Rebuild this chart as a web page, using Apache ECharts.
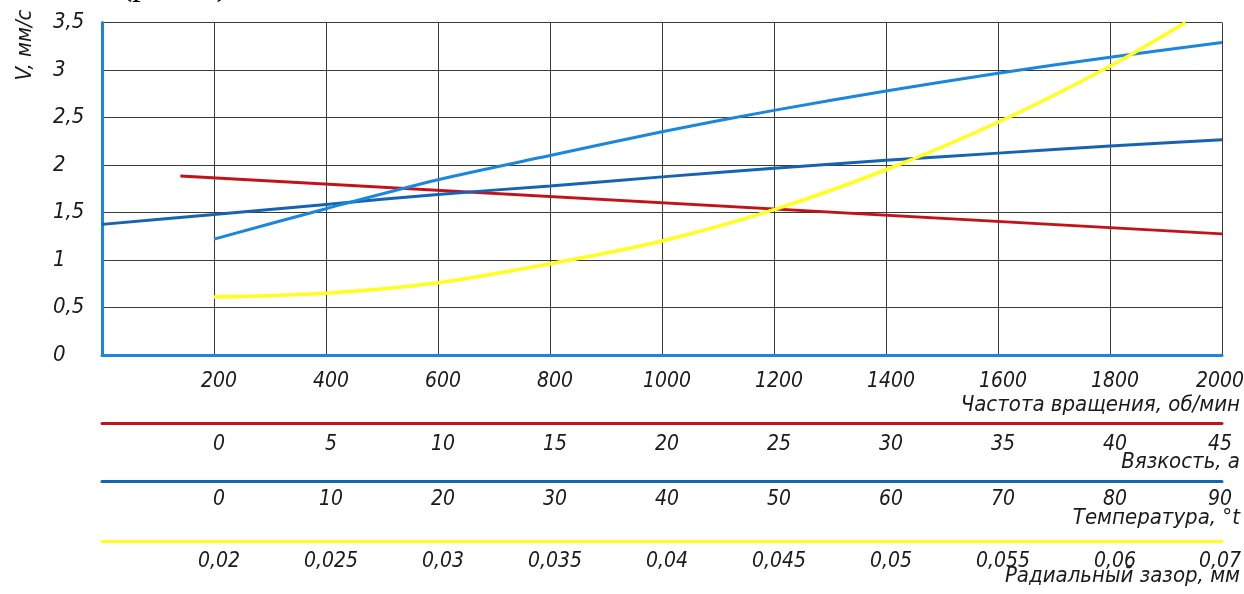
<!DOCTYPE html>
<html>
<head>
<meta charset="utf-8">
<script src="https://cdn.jsdelivr.net/npm/echarts@6/dist/echarts.min.js"></script>
<style>
  html, body { margin: 0; padding: 0; background: #ffffff; overflow: hidden; }
  #chart { width: 1244px; height: 594px; }
</style>
</head>
<body>
<div id="chart"></div>
<script>
// Tick labels of the four scales under the plot
const rpmTicks = ['200', '400', '600', '800', '1000', '1200', '1400', '1600', '1800', '2000'];
const viscosityTicks = ['0', '5', '10', '15', '20', '25', '30', '35', '40', '45'];
const temperatureTicks = ['0', '10', '20', '30', '40', '50', '60', '70', '80', '90'];
const clearanceTicks = ['0,02', '0,025', '0,03', '0,035', '0,04', '0,045', '0,05', '0,055', '0,06', '0,07'];

// Speed V, mm/s, plotted against the rotation-frequency scale (rpm)
const viscosityX = [140, 2000];
const viscosityV = [1.885, 1.275];

const temperatureX = [0, 200, 400, 600, 800, 1000, 1200, 1400, 1600, 1800, 2000];
const temperatureV = [1.375, 1.478, 1.585, 1.69, 1.78, 1.875, 1.965, 2.05, 2.125, 2.2, 2.265];

const rpmX = [200, 400, 600, 800, 1000, 1200, 1400, 1600, 1800, 2000];
const rpmV = [1.22, 1.54, 1.845, 2.1, 2.35, 2.575, 2.78, 2.965, 3.135, 3.29];

const clearanceX = [200, 400, 600, 800, 1000, 1200, 1400, 1600, 1800, 1935];
const clearanceV = [0.61, 0.65, 0.76, 0.96, 1.2, 1.53, 1.95, 2.45, 3.04, 3.5];

const FONT = "'Liberation Sans Narrow', 'DejaVu Sans Condensed', 'Liberation Sans', sans-serif";
const TEXT = '#1a1a1a';
const C_RPM = '#1a86dc';
const C_VISC = '#c4121a';
const C_TEMP = '#1763b3';
const C_CLEAR = '#ffff1f';

const pairs = (xs, ys) => xs.map((x, i) => [x, ys[i]]);

// Ticks sit every 200 rpm; the italic labels lean a little to the right,
// the last one is kept inside the canvas.
const tickLabel = (labels) => (v) => {
  const i = Math.round(v / 200) - 1;
  if (i < 0 || i >= labels.length) return '';
  return (i === labels.length - 1 ? '{z|' : '{a|') + labels[i] + '}';
};
const labelStyle = {
  fontFamily: FONT, fontStyle: 'italic', fontSize: 21, color: TEXT,
  rich: {
    a: { fontFamily: FONT, fontStyle: 'italic', fontSize: 21, color: TEXT, padding: [0, 0, 0, 10] },
    z: { fontFamily: FONT, fontStyle: 'italic', fontSize: 21, color: TEXT, padding: [0, 4, 0, 0] }
  }
};

// Extra parameter scales drawn as coloured rulers below the main axis
function scaleAxis(offset, color, labels, margin) {
  return {
    type: 'value', min: 0, max: 2000, interval: 200,
    position: 'bottom', offset: offset, gridIndex: 0,
    axisLine: { show: true, onZero: false, lineStyle: { color: color, width: 3 } },
    axisTick: { show: false },
    splitLine: { show: false },
    axisLabel: Object.assign({ margin: margin, formatter: tickLabel(labels) }, labelStyle)
  };
}

const chart = echarts.init(document.getElementById('chart'), null, { renderer: 'canvas' });

const names = [
  { text: 'Частота вращения, об/мин', y: 405 },
  { text: 'Вязкость, а', y: 462 },
  { text: 'Температура, °t', y: 518 },
  { text: 'Радиальный зазор, мм', y: 576 }
];

chart.setOption({
  animation: false,
  backgroundColor: '#ffffff',
  grid: {
    left: 102, right: 22, top: 22.5, bottom: 239,
    containLabel: false, outerBoundsMode: 'none'
  },
  xAxis: [
    {
      type: 'value', min: 0, max: 2000, interval: 200, position: 'bottom',
      axisLine: { show: true, onZero: false, lineStyle: { color: C_RPM, width: 3 } },
      axisTick: { show: false },
      splitLine: { show: true, lineStyle: { color: '#3a3a3a', width: 1 } },
      axisLabel: Object.assign({ margin: 16, formatter: tickLabel(rpmTicks) }, labelStyle)
    },
    scaleAxis(68, C_VISC, viscosityTicks, 11),
    scaleAxis(126, C_TEMP, temperatureTicks, 8),
    scaleAxis(186, C_CLEAR, clearanceTicks, 10)
  ],
  yAxis: {
    type: 'value', min: 0, max: 3.5, interval: 0.5,
    axisLine: { show: true, onZero: false, lineStyle: { color: C_RPM, width: 3 } },
    axisTick: { show: false },
    splitLine: { show: true, lineStyle: { color: '#3a3a3a', width: 1 } },
    axisLabel: {
      margin: 49, align: 'left',
      fontFamily: FONT, fontStyle: 'italic', fontSize: 22, color: TEXT,
      formatter: (v) => String(v).replace('.', ',')
    }
  },
  graphic: [
    {
      type: 'text', left: 121, top: -31,
      style: { text: '(рис. 5).', font: "34px 'Liberation Serif', serif", fill: '#000' }
    },
    {
      type: 'text', x: 14, y: 45, rotation: Math.PI / 2,
      style: {
        text: 'V, мм/с', fontFamily: FONT, fontStyle: 'italic', fontSize: 22,
        fill: TEXT, align: 'center', verticalAlign: 'top'
      }
    }
  ].concat(names.map(n => ({
    type: 'text', x: 1240, y: n.y,
    style: {
      text: n.text, fontFamily: FONT, fontStyle: 'italic', fontSize: 22,
      fill: TEXT, align: 'right', verticalAlign: 'middle'
    }
  }))),
  series: [
    {
      name: 'Вязкость', type: 'line', xAxisIndex: 0, data: pairs(viscosityX, viscosityV),
      showSymbol: false, lineStyle: { color: C_VISC, width: 3 }
    },
    {
      name: 'Температура', type: 'line', xAxisIndex: 0, data: pairs(temperatureX, temperatureV),
      smooth: 0.3, showSymbol: false, lineStyle: { color: C_TEMP, width: 3 }
    },
    {
      name: 'Частота вращения', type: 'line', xAxisIndex: 0, data: pairs(rpmX, rpmV),
      smooth: 0.3, showSymbol: false, lineStyle: { color: C_RPM, width: 3 }
    },
    {
      name: 'Радиальный зазор', type: 'line', xAxisIndex: 0, data: pairs(clearanceX, clearanceV),
      smooth: 0.3, showSymbol: false, lineStyle: { color: C_CLEAR, width: 3.5 }
    }
  ]
});
</script>
</body>
</html>
